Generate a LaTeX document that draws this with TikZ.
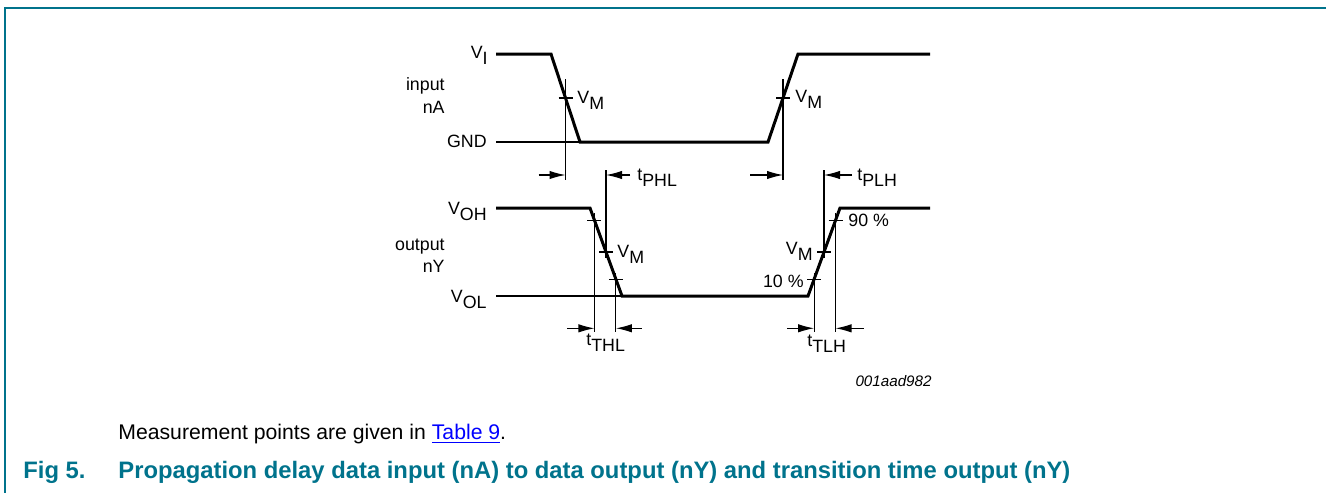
\documentclass[tikz,border=0pt]{standalone}
\usepackage{fontspec}
\setmainfont{Liberation Sans}
\usetikzlibrary{calc,arrows.meta}
\definecolor{nxpteal}{RGB}{0,115,140}
\definecolor{linkblue}{RGB}{0,0,255}
\newcommand{\dn}[1]{\raisebox{-0.35em}{#1}}
\tikzset{
  wave/.style={draw,line width=1.5pt},
  thin/.style={draw,line width=0.55pt},
  lbl/.style={inner sep=0pt,font=\fontsize{8.9}{10}\selectfont},
  dim/.style={draw,line width=0.55pt,-{Latex[length=8pt,width=4.2pt]}}
}
\begin{document}
\begin{tikzpicture}[x=0.5pt,y=-0.5pt]
              \useasboundingbox (0,0) rectangle (1326,493);
              \path[draw,nxpteal,line width=0.8pt] (1326,8)--(5,8)--(5,493);
              % input nA
              \coordinate (if1) at (551,54); \coordinate (if2) at (580,142);
              \coordinate (ir1) at (768,142); \coordinate (ir2) at (798,54);
              \path[wave] (496,54)--(if1)--(if2)--(ir1)--(ir2)--(930,54);
              \path[thin] (496,142)--(if2);
              \coordinate (im1) at ($(if1)!0.5!(if2)$);
              \coordinate (im2) at ($(ir1)!0.5!(ir2)$);
              % output nY
              \coordinate (of1) at (590,208); \coordinate (of2) at (622,296);
              \coordinate (or1) at (808,296); \coordinate (or2) at (840,208);
              \path[wave] (496,208)--(of1)--(of2)--(or1)--(or2)--(930,208);
              \path[thin] (496,296)--(of2);
              \coordinate (o90f) at ($(of1)!0.14!(of2)$);
              \coordinate (omf) at ($(of1)!0.5!(of2)$);
              \coordinate (o10f) at ($(of1)!0.81!(of2)$);
              \coordinate (o10r) at ($(or1)!0.19!(or2)$);
              \coordinate (omr) at ($(or1)!0.5!(or2)$);
              \coordinate (o90r) at ($(or1)!0.86!(or2)$);
              \foreach \p in {im1,im2,o90f,omf,o10f,o10r,omr,o90r}
                \path[thin] ($(\p)+(-7,0)$)--($(\p)+(7,0)$);
              % measuring lines
              \path[thin] ($(im1)+(0,-19)$)--($(im1)+(0,82)$);
              \path[thin] ($(im2)+(0,-19)$)--($(im2)+(0,82)$);
              \path[thin] ($(omf)+(0,-82)$)--($(omf)+(0,6)$);
              \path[thin] ($(omr)+(0,-82)$)--($(omr)+(0,6)$);
              \path[thin] ($(o90f)+(0,-7)$)--($(o90f)+(0,112)$);
              \path[thin] ($(o10f)+(0,-6)$)--($(o10f)+(0,53)$);
              \path[thin] ($(o10r)+(0,-6)$)--($(o10r)+(0,53)$);
              \path[thin] ($(o90r)+(0,-7)$)--($(o90r)+(0,112)$);
              \path[dim] ($(im1)+(-27,77)$)--($(im1)+(0,77)$);
              \path[dim] ($(omf)+(24,-77)$)--($(omf)+(0,-77)$);
              \path[dim] ($(im2)+(-33,77)$)--($(im2)+(0,77)$);
              \path[dim] ($(omr)+(28,-77)$)--($(omr)+(0,-77)$);
              \path[dim] ($(o90f)+(-27,108)$)--($(o90f)+(0,108)$);
              \path[dim] ($(o10f)+(26,49)$)--($(o10f)+(0,49)$);
              \path[dim] ($(o10r)+(-27,49)$)--($(o10r)+(0,49)$);
              \path[dim] ($(o90r)+(28,108)$)--($(o90r)+(0,108)$);
              % labels
              \node[lbl,anchor=base east] (vi) at (488,58) {V\dn{I}};
              \node[lbl,anchor=base east] (inp) at (445,90) {input};
              \node[lbl,anchor=base east] (na) at (445,113) {nA};
              \node[lbl,anchor=base east] (gnd) at (487,147) {GND};
              \node[lbl,anchor=base west] (vm1) at (577,103) {V\dn{M}};
              \node[lbl,anchor=base west] (vm2) at (795,102) {V\dn{M}};
              \node[lbl,anchor=base west] (tphl) at (637,180) {t\dn{PHL}};
              \node[lbl,anchor=base west] (tplh) at (857,180) {t\dn{PLH}};
              \node[lbl,anchor=base east] (voh) at (487,214) {V\dn{OH}};
              \node[lbl,anchor=base east] (outp) at (445,250) {output};
              \node[lbl,anchor=base east] (ny) at (445,272) {nY};
              \node[lbl,anchor=base east] (vol) at (487,302) {V\dn{OL}};
              \node[lbl,anchor=base west] (vm3) at (617,257) {V\dn{M}};
              \node[lbl,anchor=base east] (vm4) at (813,254) {V\dn{M}};
              \node[lbl,anchor=base west] (p90) at (848,226) {90 \%};
              \node[lbl,anchor=base east] (p10) at (804,287) {10 \%};
              \node[lbl,anchor=base west] (tthl) at (586,345) {t\dn{THL}};
              \node[lbl,anchor=base west] (ttlh) at (807,346) {t\dn{TLH}};
              \node[inner sep=0pt,anchor=base east,font=\fontsize{7.6}{9}\selectfont\itshape] (code) at (932,386) {001aad982};
              % caption
              \node[inner sep=0pt,anchor=base west,font=\fontsize{10.6}{12}\selectfont] (note) at (118,439)
                {Measurement points are given in \textcolor{linkblue}{\underline{Table 9}}.};
              \node[inner sep=0pt,anchor=base west,text=nxpteal,font=\fontsize{11.9}{14}\selectfont\bfseries] (fig) at (23,478) {Fig 5.};
              \node[inner sep=0pt,anchor=base west,text=nxpteal,font=\fontsize{11.9}{14}\selectfont\bfseries] (title) at (118,478)
                {Propagation delay data input (nA) to data output (nY) and transition time output (nY)};
            \end{tikzpicture}
\end{document}
